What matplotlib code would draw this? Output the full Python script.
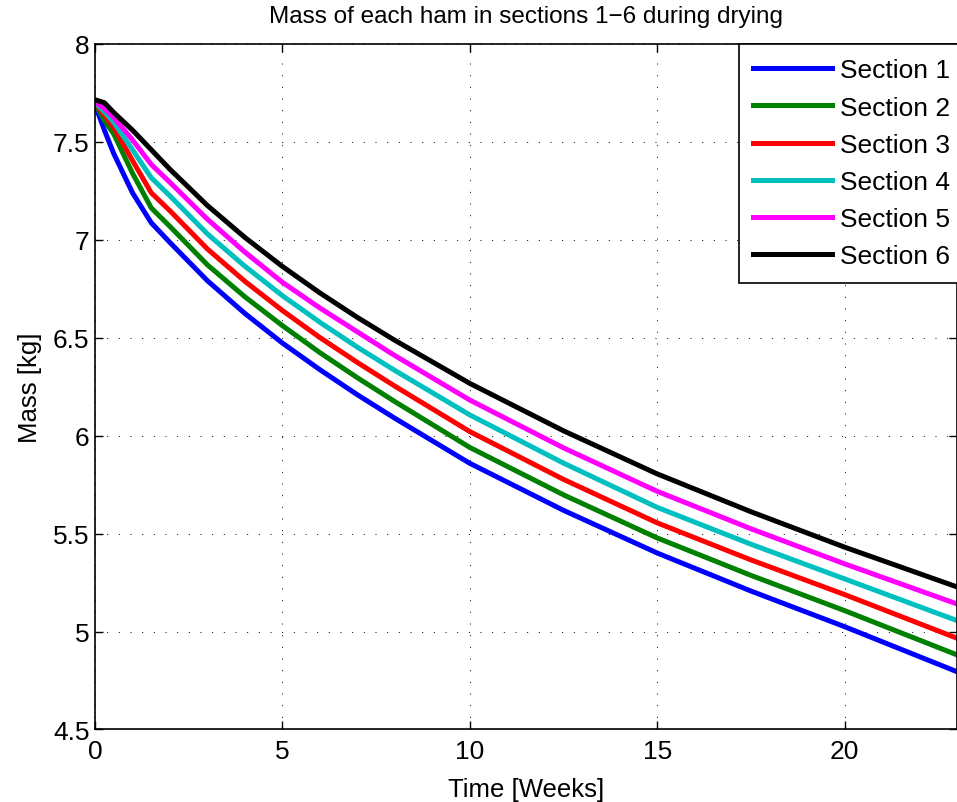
import matplotlib
matplotlib.use("Agg")
import matplotlib.pyplot as plt

plt.rcParams['font.family'] = ['Liberation Sans', 'DejaVu Sans']

weeks = [0, 0.25, 0.5, 1, 1.5, 2, 3, 4, 5, 6, 7, 8, 10, 12.5, 15, 17.5, 20, 23]

section1 = [7.69, 7.56, 7.44, 7.24, 7.087, 6.986, 6.791, 6.624, 6.473, 6.337, 6.209, 6.089, 5.859, 5.619, 5.401, 5.207, 5.025, 4.795]
section2 = [7.695, 7.61, 7.54, 7.34, 7.163, 7.068, 6.872, 6.709, 6.562, 6.424, 6.296, 6.174, 5.940, 5.698, 5.478, 5.287, 5.107, 4.881]
section3 = [7.70, 7.636, 7.573, 7.405, 7.240, 7.148, 6.953, 6.788, 6.639, 6.501, 6.374, 6.253, 6.021, 5.777, 5.555, 5.366, 5.189, 4.966]
section4 = [7.70, 7.654, 7.60, 7.46, 7.317, 7.224, 7.030, 6.865, 6.715, 6.579, 6.452, 6.333, 6.106, 5.860, 5.634, 5.446, 5.269, 5.056]
section5 = [7.705, 7.671, 7.625, 7.51, 7.385, 7.293, 7.105, 6.937, 6.783, 6.652, 6.530, 6.409, 6.182, 5.938, 5.716, 5.525, 5.346, 5.141]
section6 = [7.715, 7.70, 7.65, 7.56, 7.46, 7.36, 7.175, 7.012, 6.864, 6.729, 6.604, 6.487, 6.267, 6.025, 5.805, 5.612, 5.431, 5.228]

labels = ['Section 1', 'Section 2', 'Section 3', 'Section 4', 'Section 5', 'Section 6']
colors = ['#0000FF', '#008000', '#FF0000', '#00BFBF', '#FF00FF', '#000000']

xticks = [0, 5, 10, 15, 20]
yticks = [4.5, 5, 5.5, 6, 6.5, 7, 7.5, 8]
ytick_labels = ['4.5', '5', '5.5', '6', '6.5', '7', '7.5', '8']

fig = plt.figure(figsize=(9.57, 8.03), dpi=100)
ax = fig.add_axes([0.0993, 0.0903, 0.9007, 0.8537])

for ys, lab, c in zip([section1, section2, section3, section4, section5, section6], labels, colors):
    ax.plot(weeks, ys, color=c, lw=3.6, label=lab, solid_joinstyle='round')

ax.set_xlim(0, 23)
ax.set_ylim(4.5, 8)
ax.set_xticks(xticks)
ax.set_yticks(yticks)
ax.set_xticklabels([str(t) for t in xticks])
ax.set_yticklabels(ytick_labels)
ax.grid(True, color='black', linestyle=(0, (1, 11)), linewidth=0.7)
ax.tick_params(axis='both', direction='in', length=6, width=1, labelsize=19, top=True, right=True)
ax.tick_params(axis='x', pad=7)
ax.tick_params(axis='y', pad=4)
for s in ax.spines.values():
    s.set_linewidth(1.2)

ax.set_xlabel('Time [Weeks]', fontsize=18.5, labelpad=10)
ax.set_ylabel('Mass [kg]', fontsize=18.5, labelpad=8)
ax.set_title('Mass of each ham in sections 1\u22126 during drying', fontsize=17.5, pad=16)

leg = ax.legend(loc='upper right', bbox_to_anchor=(1.0 + 8 / 862, 1.0), borderaxespad=0,
                fontsize=19, handlelength=3.0, handletextpad=0.3, labelspacing=0.5,
                borderpad=0.55, fancybox=False, framealpha=1, edgecolor='black')
leg.get_frame().set_linewidth(1.2)

fig.savefig('out.png', dpi=100)
